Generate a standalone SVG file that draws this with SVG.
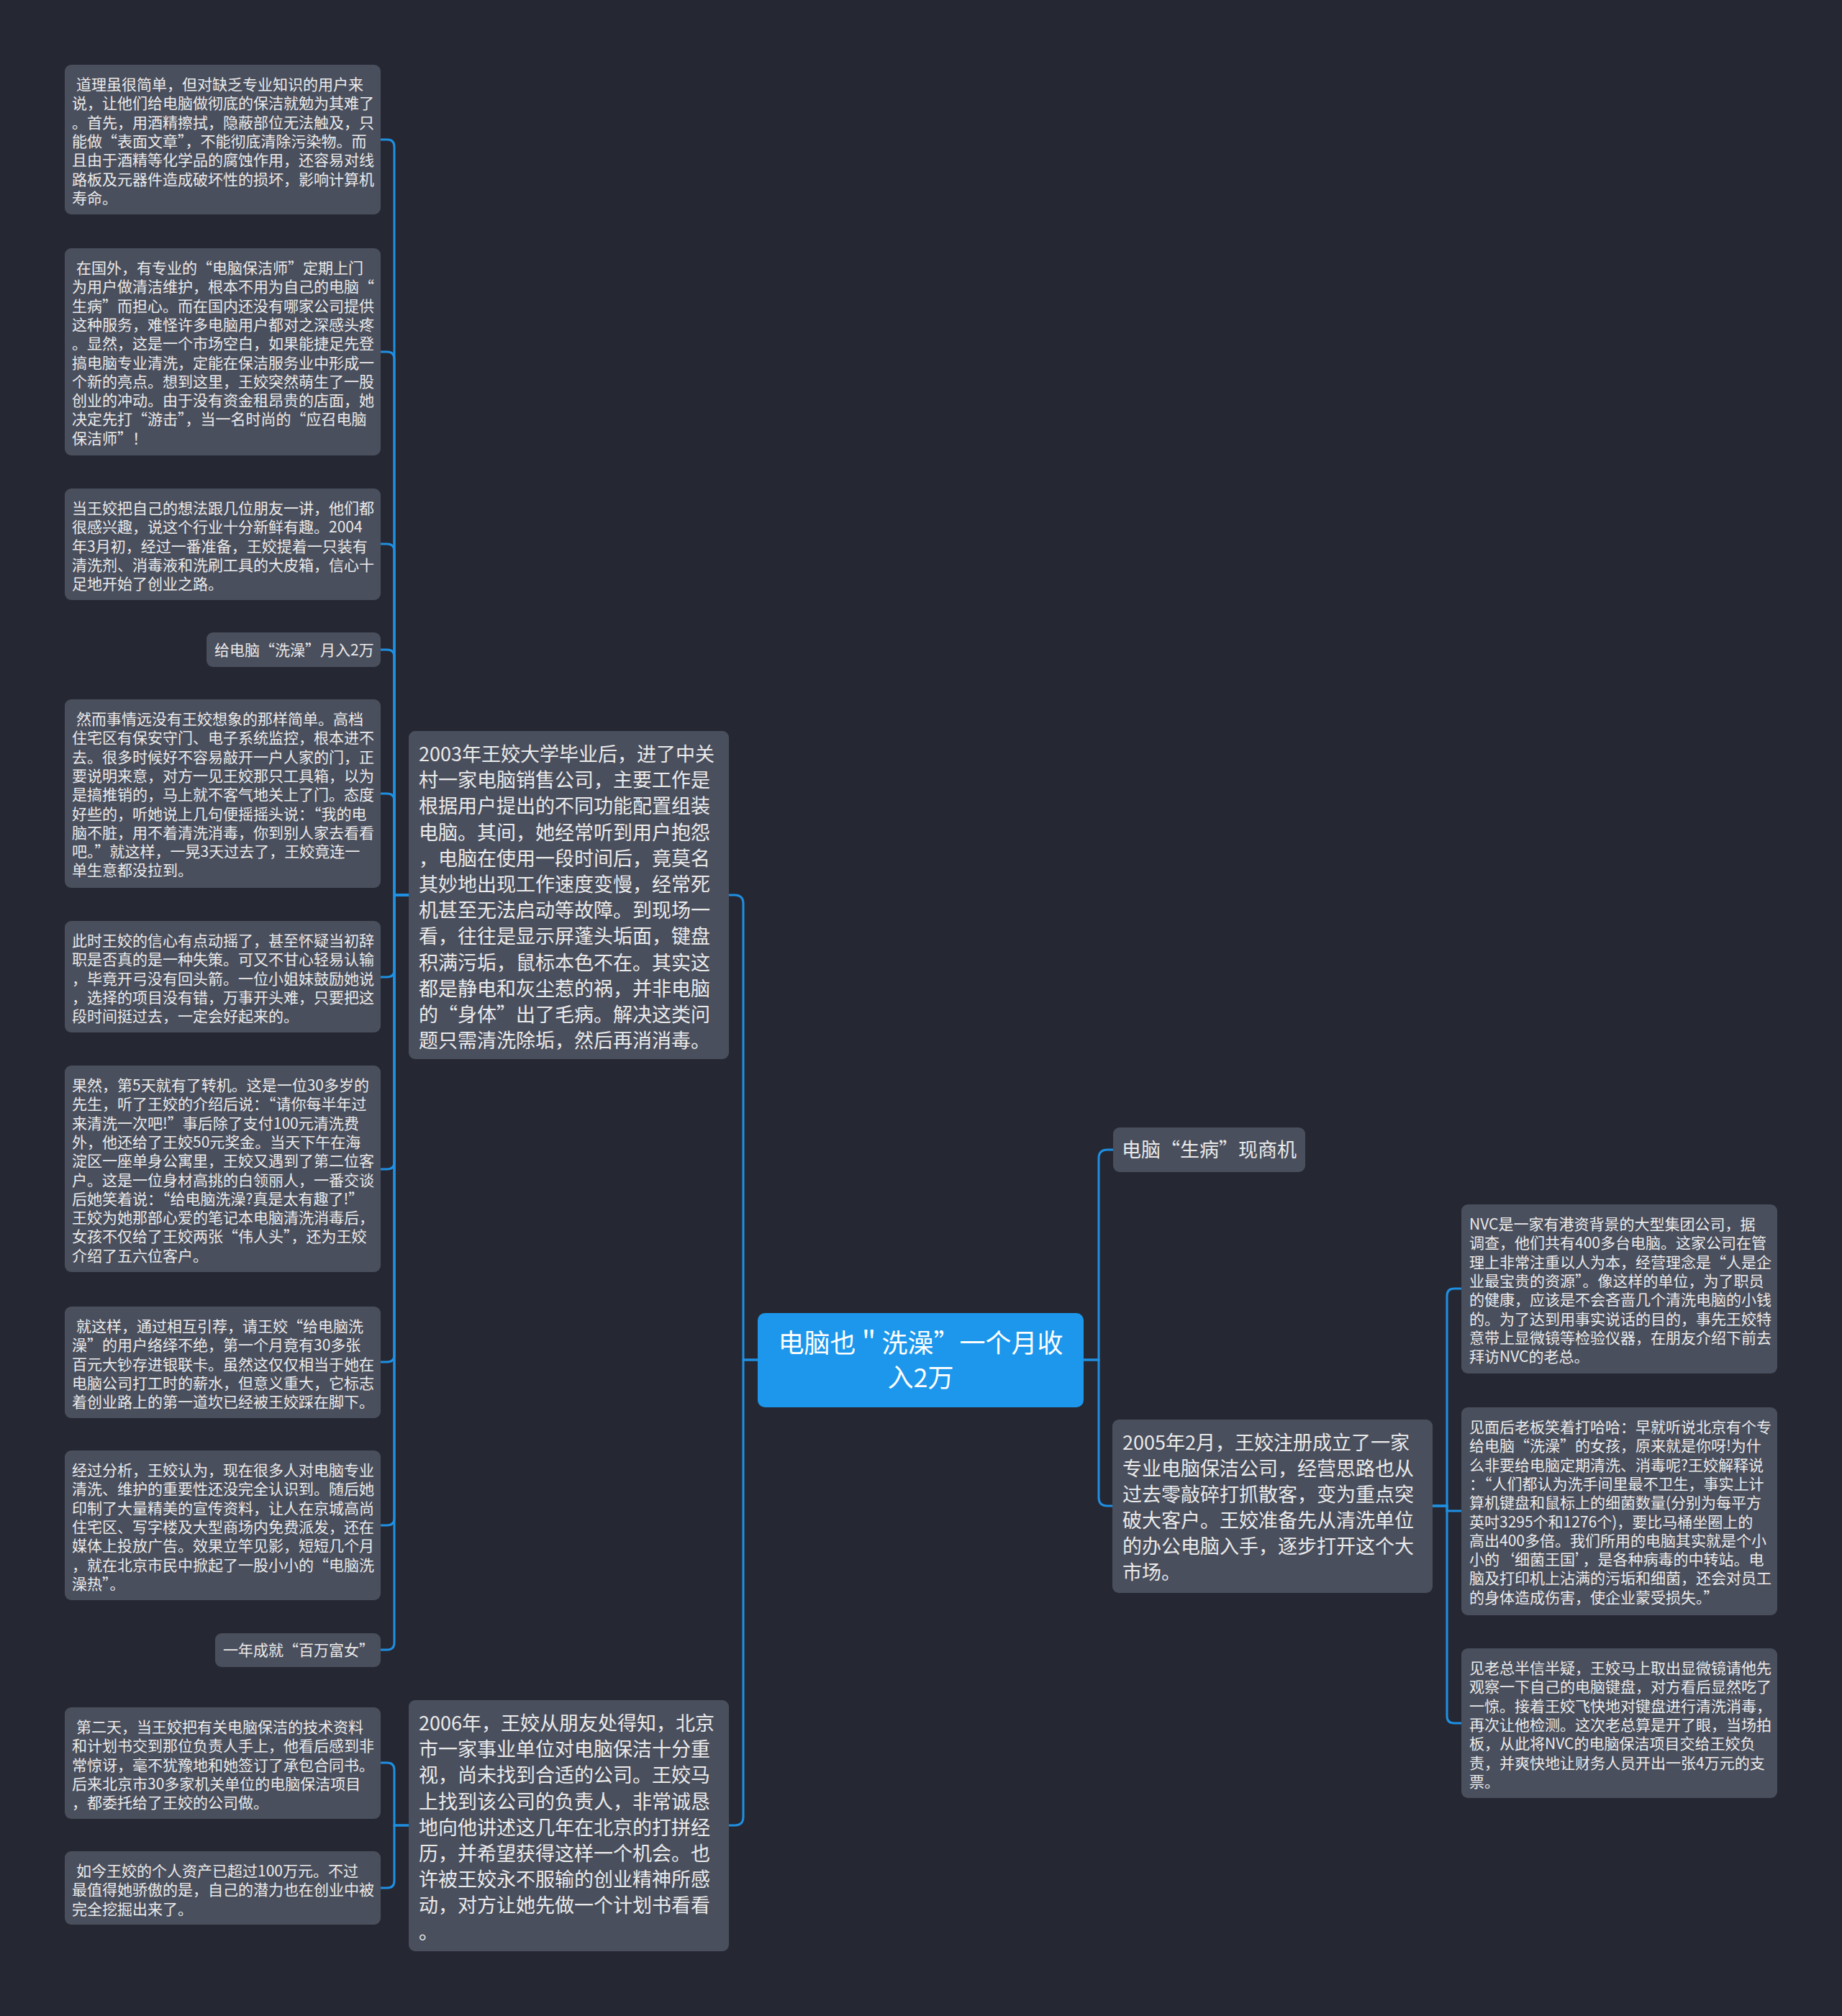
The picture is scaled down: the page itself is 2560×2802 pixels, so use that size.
<svg xmlns="http://www.w3.org/2000/svg" width="2560" height="2802" viewBox="0 0 2560 2802">
<style>
.n{fill:#4a4f5d}
.t{fill:#eaeaea;font-family:"Noto Sans CJK SC","Noto Sans",sans-serif}
.s{font-size:21px}
.m{font-size:27px}
.c{font-size:36px;fill:#ffffff;text-anchor:middle}
.e{fill:none;stroke:#1f8fe2;stroke-width:3;stroke-linecap:round}
</style>
<rect x="0" y="0" width="2560" height="2802" fill="#252833"/>
<g id="connectors">
<path class="e" d="M1506 1890 H1527 V1610 Q1527 1598 1539 1598 H1547"/>
<path class="e" d="M1506 1890 H1527 V2081 Q1527 2093 1539 2093 H1546"/>
<path class="e" d="M1053 1890 H1033 V1256 Q1033 1244 1021 1244 H1013"/>
<path class="e" d="M1053 1890 H1033 V2525 Q1033 2537 1021 2537 H1013"/>
<path class="e" d="M568 1244 H548 V204 Q548 194 538 194 H529"/>
<path class="e" d="M568 1244 H548 V499 Q548 489 538 489 H529"/>
<path class="e" d="M568 1244 H548 V766 Q548 756 538 756 H529"/>
<path class="e" d="M568 1244 H548 V913 Q548 903 538 903 H529"/>
<path class="e" d="M568 1244 H548 V1113 Q548 1103 538 1103 H529"/>
<path class="e" d="M568 1244 H548 V1348 Q548 1358 538 1358 H529"/>
<path class="e" d="M568 1244 H548 V1615 Q548 1625 538 1625 H529"/>
<path class="e" d="M568 1244 H548 V1883 Q548 1893 538 1893 H529"/>
<path class="e" d="M568 1244 H548 V2110 Q548 2120 538 2120 H529"/>
<path class="e" d="M568 1244 H548 V2283 Q548 2293 538 2293 H529"/>
<path class="e" d="M568 2537 H548 V2460 Q548 2450 538 2450 H529"/>
<path class="e" d="M568 2537 H548 V2614 Q548 2624 538 2624 H529"/>
<path class="e" d="M1991 2093 H2011 V1801 Q2011 1791 2021 1791 H2031"/>
<path class="e" d="M1991 2093 H2011 V2100 H2031"/>
<path class="e" d="M1991 2093 H2011 V2385 Q2011 2395 2021 2395 H2031"/>
</g>
<g id="root">
<rect x="1053" y="1825" width="453" height="131" rx="10" fill="#1c97ec"/>
<text class="t c" x="1279.5" y="1880">电脑也＂洗澡”一个月收<tspan x="1279.5" dy="48">入2万</tspan></text>
</g>
<g id="n-shengbing">
<rect class="n" x="1547" y="1567" width="267" height="62" rx="9"/>
<text class="t m" x="1559" y="1608">电脑“生病”现商机</text>
</g>
<g id="n-2005">
<rect class="n" x="1546" y="1973" width="445" height="241" rx="9"/>
<text class="t m" x="1560" y="2015"><tspan x="1560">2005年2月，王姣注册成立了一家</tspan><tspan x="1560" dy="36">专业电脑保洁公司，经营思路也从</tspan><tspan x="1560" dy="36">过去零敲碎打抓散客，变为重点突</tspan><tspan x="1560" dy="36">破大客户。王姣准备先从清洗单位</tspan><tspan x="1560" dy="36">的办公电脑入手，逐步打开这个大</tspan><tspan x="1560" dy="36">市场。</tspan></text>
</g>
<g id="n-r1">
<rect class="n" x="2031" y="1674" width="439" height="235" rx="9"/>
<text class="t s" x="2042" y="1709"><tspan x="2042">NVC是一家有港资背景的大型集团公司，据</tspan><tspan x="2042" dy="26.3">调查，他们共有400多台电脑。这家公司在管</tspan><tspan x="2042" dy="26.3">理上非常注重以人为本，经营理念是“人是企</tspan><tspan x="2042" dy="26.3">业最宝贵的资源”。像这样的单位，为了职员</tspan><tspan x="2042" dy="26.3">的健康，应该是不会吝啬几个清洗电脑的小钱</tspan><tspan x="2042" dy="26.3">的。为了达到用事实说话的目的，事先王姣特</tspan><tspan x="2042" dy="26.3">意带上显微镜等检验仪器，在朋友介绍下前去</tspan><tspan x="2042" dy="26.3">拜访NVC的老总。</tspan></text>
</g>
<g id="n-r2">
<rect class="n" x="2031" y="1956" width="439" height="289" rx="9"/>
<text class="t s" x="2042" y="1991"><tspan x="2042">见面后老板笑着打哈哈：早就听说北京有个专</tspan><tspan x="2042" dy="26.3">给电脑“洗澡”的女孩，原来就是你呀!为什</tspan><tspan x="2042" dy="26.3">么非要给电脑定期清洗、消毒呢?王姣解释说</tspan><tspan x="2042" dy="26.3">：“人们都认为洗手间里最不卫生，事实上计</tspan><tspan x="2042" dy="26.3">算机键盘和鼠标上的细菌数量(分别为每平方</tspan><tspan x="2042" dy="26.3">英吋3295个和1276个)，要比马桶坐圈上的</tspan><tspan x="2042" dy="26.3">高出400多倍。我们所用的电脑其实就是个小</tspan><tspan x="2042" dy="26.3">小的‘细菌王国’，是各种病毒的中转站。电</tspan><tspan x="2042" dy="26.3">脑及打印机上沾满的污垢和细菌，还会对员工</tspan><tspan x="2042" dy="26.3">的身体造成伤害，使企业蒙受损失。”</tspan></text>
</g>
<g id="n-r3">
<rect class="n" x="2031" y="2291" width="439" height="208" rx="9"/>
<text class="t s" x="2042" y="2326"><tspan x="2042">见老总半信半疑，王姣马上取出显微镜请他先</tspan><tspan x="2042" dy="26.3">观察一下自己的电脑键盘，对方看后显然吃了</tspan><tspan x="2042" dy="26.3">一惊。接着王姣飞快地对键盘进行清洗消毒，</tspan><tspan x="2042" dy="26.3">再次让他检测。这次老总算是开了眼，当场拍</tspan><tspan x="2042" dy="26.3">板，从此将NVC的电脑保洁项目交给王姣负</tspan><tspan x="2042" dy="26.3">责，并爽快地让财务人员开出一张4万元的支</tspan><tspan x="2042" dy="26.3">票。</tspan></text>
</g>
<g id="n-2003">
<rect class="n" x="568" y="1016" width="445" height="456" rx="9"/>
<text class="t m" x="582" y="1058"><tspan x="582">2003年王姣大学毕业后，进了中关</tspan><tspan x="582" dy="36.2">村一家电脑销售公司，主要工作是</tspan><tspan x="582" dy="36.2">根据用户提出的不同功能配置组装</tspan><tspan x="582" dy="36.2">电脑。其间，她经常听到用户抱怨</tspan><tspan x="582" dy="36.2">，电脑在使用一段时间后，竟莫名</tspan><tspan x="582" dy="36.2">其妙地出现工作速度变慢，经常死</tspan><tspan x="582" dy="36.2">机甚至无法启动等故障。到现场一</tspan><tspan x="582" dy="36.2">看，往往是显示屏蓬头垢面，键盘</tspan><tspan x="582" dy="36.2">积满污垢，鼠标本色不在。其实这</tspan><tspan x="582" dy="36.2">都是静电和灰尘惹的祸，并非电脑</tspan><tspan x="582" dy="36.2">的“身体”出了毛病。解决这类问</tspan><tspan x="582" dy="36.2">题只需清洗除垢，然后再消消毒。</tspan></text>
</g>
<g id="n-2006">
<rect class="n" x="568" y="2363" width="445" height="349" rx="9"/>
<text class="t m" x="582" y="2405"><tspan x="582">2006年，王姣从朋友处得知，北京</tspan><tspan x="582" dy="36.2">市一家事业单位对电脑保洁十分重</tspan><tspan x="582" dy="36.2">视，尚未找到合适的公司。王姣马</tspan><tspan x="582" dy="36.2">上找到该公司的负责人，非常诚恳</tspan><tspan x="582" dy="36.2">地向他讲述这几年在北京的打拼经</tspan><tspan x="582" dy="36.2">历，并希望获得这样一个机会。也</tspan><tspan x="582" dy="36.2">许被王姣永不服输的创业精神所感</tspan><tspan x="582" dy="36.2">动，对方让她先做一个计划书看看</tspan><tspan x="582" dy="36.2">。</tspan></text>
</g>
<g id="n-l1">
<rect class="n" x="90" y="90" width="439" height="208" rx="9"/>
<text class="t s" x="100" y="125"><tspan x="106">道理虽很简单，但对缺乏专业知识的用户来</tspan><tspan x="100" dy="26.3">说，让他们给电脑做彻底的保洁就勉为其难了</tspan><tspan x="100" dy="26.3">。首先，用酒精擦拭，隐蔽部位无法触及，只</tspan><tspan x="100" dy="26.3">能做“表面文章”，不能彻底清除污染物。而</tspan><tspan x="100" dy="26.3">且由于酒精等化学品的腐蚀作用，还容易对线</tspan><tspan x="100" dy="26.3">路板及元器件造成破坏性的损坏，影响计算机</tspan><tspan x="100" dy="26.3">寿命。</tspan></text>
</g>
<g id="n-l2">
<rect class="n" x="90" y="345" width="439" height="288" rx="9"/>
<text class="t s" x="100" y="380"><tspan x="106">在国外，有专业的“电脑保洁师”定期上门</tspan><tspan x="100" dy="26.3">为用户做清洁维护，根本不用为自己的电脑“</tspan><tspan x="100" dy="26.3">生病”而担心。而在国内还没有哪家公司提供</tspan><tspan x="100" dy="26.3">这种服务，难怪许多电脑用户都对之深感头疼</tspan><tspan x="100" dy="26.3">。显然，这是一个市场空白，如果能捷足先登</tspan><tspan x="100" dy="26.3">搞电脑专业清洗，定能在保洁服务业中形成一</tspan><tspan x="100" dy="26.3">个新的亮点。想到这里，王姣突然萌生了一股</tspan><tspan x="100" dy="26.3">创业的冲动。由于没有资金租昂贵的店面，她</tspan><tspan x="100" dy="26.3">决定先打“游击”，当一名时尚的“应召电脑</tspan><tspan x="100" dy="26.3">保洁师”！</tspan></text>
</g>
<g id="n-l3">
<rect class="n" x="90" y="679" width="439" height="155" rx="9"/>
<text class="t s" x="100" y="714"><tspan x="100">当王姣把自己的想法跟几位朋友一讲，他们都</tspan><tspan x="100" dy="26.3">很感兴趣，说这个行业十分新鲜有趣。2004</tspan><tspan x="100" dy="26.3">年3月初，经过一番准备，王姣提着一只装有</tspan><tspan x="100" dy="26.3">清洗剂、消毒液和洗刷工具的大皮箱，信心十</tspan><tspan x="100" dy="26.3">足地开始了创业之路。</tspan></text>
</g>
<g id="n-l4">
<rect class="n" x="287" y="879" width="242" height="48" rx="9"/>
<text class="t s" x="298" y="911">给电脑“洗澡”月入2万</text>
</g>
<g id="n-l5">
<rect class="n" x="90" y="972" width="439" height="262" rx="9"/>
<text class="t s" x="100" y="1007"><tspan x="106">然而事情远没有王姣想象的那样简单。高档</tspan><tspan x="100" dy="26.3">住宅区有保安守门、电子系统监控，根本进不</tspan><tspan x="100" dy="26.3">去。很多时候好不容易敲开一户人家的门，正</tspan><tspan x="100" dy="26.3">要说明来意，对方一见王姣那只工具箱，以为</tspan><tspan x="100" dy="26.3">是搞推销的，马上就不客气地关上了门。态度</tspan><tspan x="100" dy="26.3">好些的，听她说上几句便摇摇头说：“我的电</tspan><tspan x="100" dy="26.3">脑不脏，用不着清洗消毒，你到别人家去看看</tspan><tspan x="100" dy="26.3">吧。”就这样，一晃3天过去了，王姣竟连一</tspan><tspan x="100" dy="26.3">单生意都没拉到。</tspan></text>
</g>
<g id="n-l6">
<rect class="n" x="90" y="1280" width="439" height="155" rx="9"/>
<text class="t s" x="100" y="1315"><tspan x="100">此时王姣的信心有点动摇了，甚至怀疑当初辞</tspan><tspan x="100" dy="26.3">职是否真的是一种失策。可又不甘心轻易认输</tspan><tspan x="100" dy="26.3">，毕竟开弓没有回头箭。一位小姐妹鼓励她说</tspan><tspan x="100" dy="26.3">，选择的项目没有错，万事开头难，只要把这</tspan><tspan x="100" dy="26.3">段时间挺过去，一定会好起来的。</tspan></text>
</g>
<g id="n-l7">
<rect class="n" x="90" y="1481" width="439" height="287" rx="9"/>
<text class="t s" x="100" y="1516"><tspan x="100">果然，第5天就有了转机。这是一位30多岁的</tspan><tspan x="100" dy="26.3">先生，听了王姣的介绍后说：“请你每半年过</tspan><tspan x="100" dy="26.3">来清洗一次吧!”事后除了支付100元清洗费</tspan><tspan x="100" dy="26.3">外，他还给了王姣50元奖金。当天下午在海</tspan><tspan x="100" dy="26.3">淀区一座单身公寓里，王姣又遇到了第二位客</tspan><tspan x="100" dy="26.3">户。这是一位身材高挑的白领丽人，一番交谈</tspan><tspan x="100" dy="26.3">后她笑着说：“给电脑洗澡?真是太有趣了!”</tspan><tspan x="100" dy="26.3">王姣为她那部心爱的笔记本电脑清洗消毒后，</tspan><tspan x="100" dy="26.3">女孩不仅给了王姣两张“伟人头”，还为王姣</tspan><tspan x="100" dy="26.3">介绍了五六位客户。</tspan></text>
</g>
<g id="n-l8">
<rect class="n" x="90" y="1816" width="439" height="155" rx="9"/>
<text class="t s" x="100" y="1851"><tspan x="106">就这样，通过相互引荐，请王姣“给电脑洗</tspan><tspan x="100" dy="26.3">澡”的用户络绎不绝，第一个月竟有30多张</tspan><tspan x="100" dy="26.3">百元大钞存进银联卡。虽然这仅仅相当于她在</tspan><tspan x="100" dy="26.3">电脑公司打工时的薪水，但意义重大，它标志</tspan><tspan x="100" dy="26.3">着创业路上的第一道坎已经被王姣踩在脚下。</tspan></text>
</g>
<g id="n-l9">
<rect class="n" x="90" y="2016" width="439" height="208" rx="9"/>
<text class="t s" x="100" y="2051"><tspan x="100">经过分析，王姣认为，现在很多人对电脑专业</tspan><tspan x="100" dy="26.3">清洗、维护的重要性还没完全认识到。随后她</tspan><tspan x="100" dy="26.3">印制了大量精美的宣传资料，让人在京城高尚</tspan><tspan x="100" dy="26.3">住宅区、写字楼及大型商场内免费派发，还在</tspan><tspan x="100" dy="26.3">媒体上投放广告。效果立竿见影，短短几个月</tspan><tspan x="100" dy="26.3">，就在北京市民中掀起了一股小小的“电脑洗</tspan><tspan x="100" dy="26.3">澡热”。</tspan></text>
</g>
<g id="n-l10">
<rect class="n" x="299" y="2270" width="230" height="47" rx="9"/>
<text class="t s" x="310" y="2301">一年成就“百万富女”</text>
</g>
<g id="n-l11">
<rect class="n" x="90" y="2373" width="439" height="155" rx="9"/>
<text class="t s" x="100" y="2408"><tspan x="106">第二天，当王姣把有关电脑保洁的技术资料</tspan><tspan x="100" dy="26.3">和计划书交到那位负责人手上，他看后感到非</tspan><tspan x="100" dy="26.3">常惊讶，毫不犹豫地和她签订了承包合同书。</tspan><tspan x="100" dy="26.3">后来北京市30多家机关单位的电脑保洁项目</tspan><tspan x="100" dy="26.3">，都委托给了王姣的公司做。</tspan></text>
</g>
<g id="n-l12">
<rect class="n" x="90" y="2573" width="439" height="102" rx="9"/>
<text class="t s" x="100" y="2608"><tspan x="106">如今王姣的个人资产已超过100万元。不过</tspan><tspan x="100" dy="26.3">最值得她骄傲的是，自己的潜力也在创业中被</tspan><tspan x="100" dy="26.3">完全挖掘出来了。</tspan></text>
</g>
</svg>
